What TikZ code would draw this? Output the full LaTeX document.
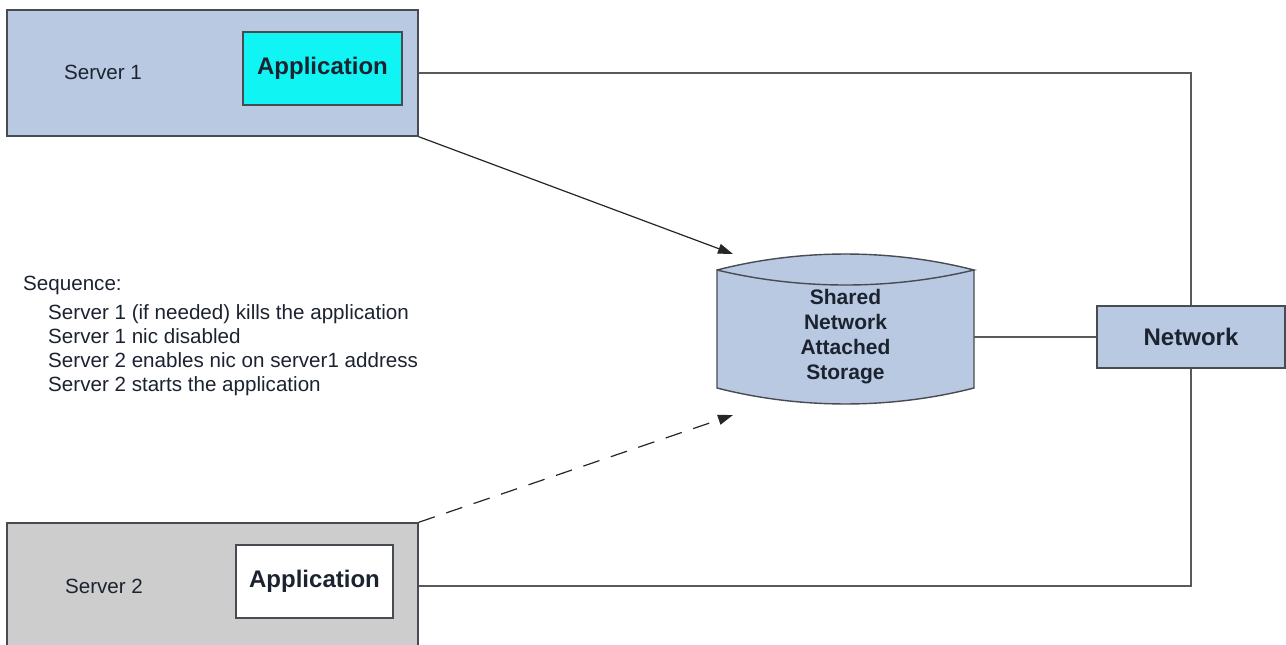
\documentclass[tikz,border=0pt]{standalone}
\usepackage{fontspec}
\setmainfont{Liberation Sans}
\usetikzlibrary{arrows.meta}
\definecolor{steel}{HTML}{B9C9E1}
\definecolor{aqua}{HTML}{10F4F4}
\definecolor{silver}{HTML}{CDCDCD}
\definecolor{edge}{HTML}{474B52}
\definecolor{ink}{HTML}{1C2330}
\definecolor{wire}{HTML}{5A5A5A}
\begin{document}
\begin{tikzpicture}[x=1pt,y=-1pt,
  box/.style={draw=edge, line width=1.4pt, inner sep=0pt},
  plain/.style={text=ink, font=\fontsize{20.6}{24}\selectfont, inner sep=0pt},
  heavy/.style={text=ink, font=\fontsize{24}{28}\bfseries\selectfont, inner sep=0pt},
  wireline/.style={draw=wire, line width=1.3pt},
  flow/.style={draw=black!85, line width=1.2pt, -{Triangle[length=15pt,width=10pt]}},
  flowdash/.style={flow, dash pattern=on 17pt off 12pt}]
\useasboundingbox (0,0) rectangle (1286,645);
\fill[white] (0,0) rectangle (1286,645);

% servers
\node[box, fill=steel, minimum width=411pt, minimum height=126pt] (s1) at (212.5,73) {};
\node[box, fill=aqua, minimum width=159pt, minimum height=73pt] (app1) at (322.5,68.5) {};
\node[heavy] at (app1) {Application};
\node[plain] (s1lbl) at (103,72) {Server 1};

\node[box, fill=silver, minimum width=411pt, minimum height=126pt] (s2) at (212.5,586) {};
\node[box, fill=white, minimum width=157pt, minimum height=73pt] (app2) at (314.5,581.5) {};
\node[heavy] at (app2) {Application};
\node[plain] (s2lbl) at (104,586) {Server 2};

% network
\node[box, fill=steel, minimum width=188pt, minimum height=62pt] (net) at (1191,337) {};
\node[heavy] at (net) {Network};

% shared storage drum
\fill[steel] (717,270) .. controls (800,248.7) and (891,248.7) .. (974,270)
  -- (974,388) .. controls (891,409.3) and (800,409.3) .. (717,388) -- cycle;
\draw[edge, line width=1.4pt]
  (717,270) .. controls (800,248.7) and (891,248.7) .. (974,270)
  .. controls (891,290) and (800,290) .. (717,270)
  -- (717,388) .. controls (800,409.3) and (891,409.3) .. (974,388) -- (974,270);
\node[inner sep=0pt, minimum width=257pt, minimum height=118pt] (nas) at (845.5,329) {};
\node[text=ink, font=\fontsize{21}{25}\bfseries\selectfont, align=center, inner sep=0pt]
  (naslbl) at (845.5,337) {Shared\\Network\\Attached\\Storage};

% sequence notes
\node[plain, anchor=base west] (q0) at (23,290) {Sequence:};
\node[plain, anchor=base west] (q1) at (48,319) {Server 1 (if needed) kills the application};
\node[plain, anchor=base west] (q2) at (48,343) {Server 1 nic disabled};
\node[plain, anchor=base west] (q3) at (48,367) {Server 2 enables nic on server1 address};
\node[plain, anchor=base west] (q4) at (48,391) {Server 2 starts the application};

% connectors
\coordinate (tipA) at (733,254);
\coordinate (tipB) at (733,415);
\draw[flow] (s1.south east) -- (tipA);
\draw[flowdash] (s2.north east) -- (tipB);
\draw[wireline] (s1.east) -| (net.north);
\draw[wireline] (s2.east) -| (net.south);
\draw[wireline] (net.west -| nas.east) -- (net.west);
\end{tikzpicture}
\end{document}
